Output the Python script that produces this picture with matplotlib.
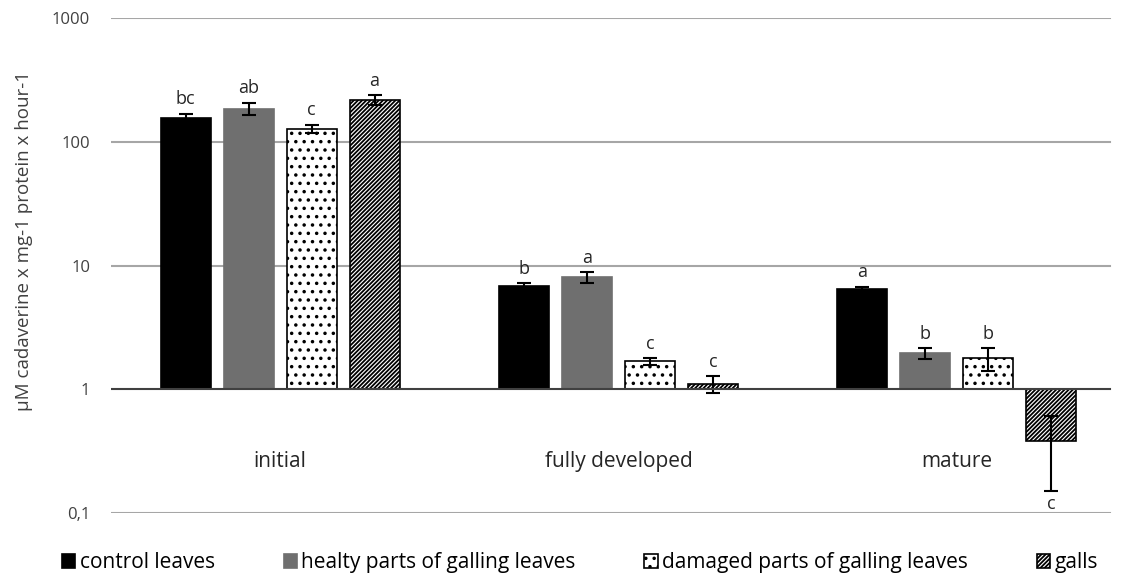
import matplotlib; matplotlib.use("Agg")
import matplotlib.pyplot as plt
import numpy as np

plt.rcParams['font.family'] = ['Open Sans', 'DejaVu Sans']
plt.rcParams['hatch.linewidth'] = 1.3

stages = ["initial", "fully developed", "mature"]
series = ["control leaves", "healty parts of galling leaves",
          "damaged parts of galling leaves", "galls"]
values = [[155, 6.8, 6.4],
          [185, 8.0, 1.95],
          [127, 1.68, 1.78],
          [218, 1.1, 0.38]]
errs = [[13, 0.4, 0.35],
        [22, 0.8, 0.2],
        [10, 0.1, 0.37],
        [20, 0.17, 0.23]]
letters = [["bc", "b", "a"],
           ["ab", "a", "b"],
           ["c", "c", "b"],
           ["a", "c", "c"]]
yticks = [0.1, 1, 10, 100, 1000]
ytick_labels = ["0,1", "1", "10", "100", "1000"]

styles = [dict(color="black", edgecolor="black", hatch=None),
          dict(color="#6f6f6f", edgecolor="#6f6f6f", hatch=None),
          dict(color="white", edgecolor="black", hatch=".."),
          dict(color="white", edgecolor="black", hatch="////////")]

fig = plt.figure(figsize=(11.26, 5.79), dpi=100)
ax = fig.add_axes([111/1126, 1 - 513/579, 1 - 111/1126, (513 - 18)/579])
ax.set_yscale("log")
ax.set_ylim(0.1, 1000)
ax.set_xlim(-0.5, 2.5)

x = np.arange(len(stages))
step, w = 0.186, 0.148
for i, name in enumerate(series):
    xs = x + (i - 1.5) * step
    v = np.array(values[i], dtype=float)
    st = styles[i]
    ax.bar(xs, v - 1, bottom=1, width=w, color=st["color"], edgecolor=st["edgecolor"],
           hatch=st["hatch"], linewidth=1.2, label=name, zorder=3)
    e = np.array(errs[i], dtype=float)
    ax.errorbar(xs, v, yerr=e, fmt="none", ecolor="black", elinewidth=1.5,
                capsize=5, capthick=1.5, zorder=4)
    for xx, vv, ee, lab in zip(xs, v, e, letters[i]):
        if vv >= 1:
            ax.annotate(lab, (xx, vv + ee), xytext=(0, 4), textcoords="offset points",
                        ha="center", va="bottom", fontsize=13, color="#262626")
        else:
            ax.annotate(lab, (xx, vv - ee), xytext=(0, -3), textcoords="offset points",
                        ha="center", va="top", fontsize=13, color="#262626")

# gridlines (axis line at 1 is darker)
for t in yticks:
    if t == 1:
        ax.axhline(t, xmax=0.984, color="#404040", lw=1.5, zorder=5)
    else:
        ax.axhline(t, xmax=0.984, color="#a6a6a6", lw=1.5, zorder=1)

for xx, s in zip(x, stages):
    ax.text(xx, 0.26, s, ha="center", va="center", fontsize=15, color="#262626")

ax.set_yticks(yticks)
ax.set_yticklabels(ytick_labels, fontsize=12, color="#404040")
ax.minorticks_off()
ax.tick_params(axis="y", length=0, pad=15)
ax.set_xticks([])
for sp in ax.spines.values():
    sp.set_visible(False)
ax.set_ylabel("µM cadaverine x mg-1 protein x hour-1", fontsize=13.5, color="#404040")
ax.yaxis.set_label_coords(-0.077, 0.55)

fig.legend(loc="center left", bbox_to_anchor=(0.055, 0.028, 0.92, 0), mode="expand",
           ncol=4, frameon=False, fontsize=15, handlelength=0.65, handleheight=0.65,
           handletextpad=0.2, borderaxespad=0, borderpad=0)

fig.savefig("out.png", dpi=100)
